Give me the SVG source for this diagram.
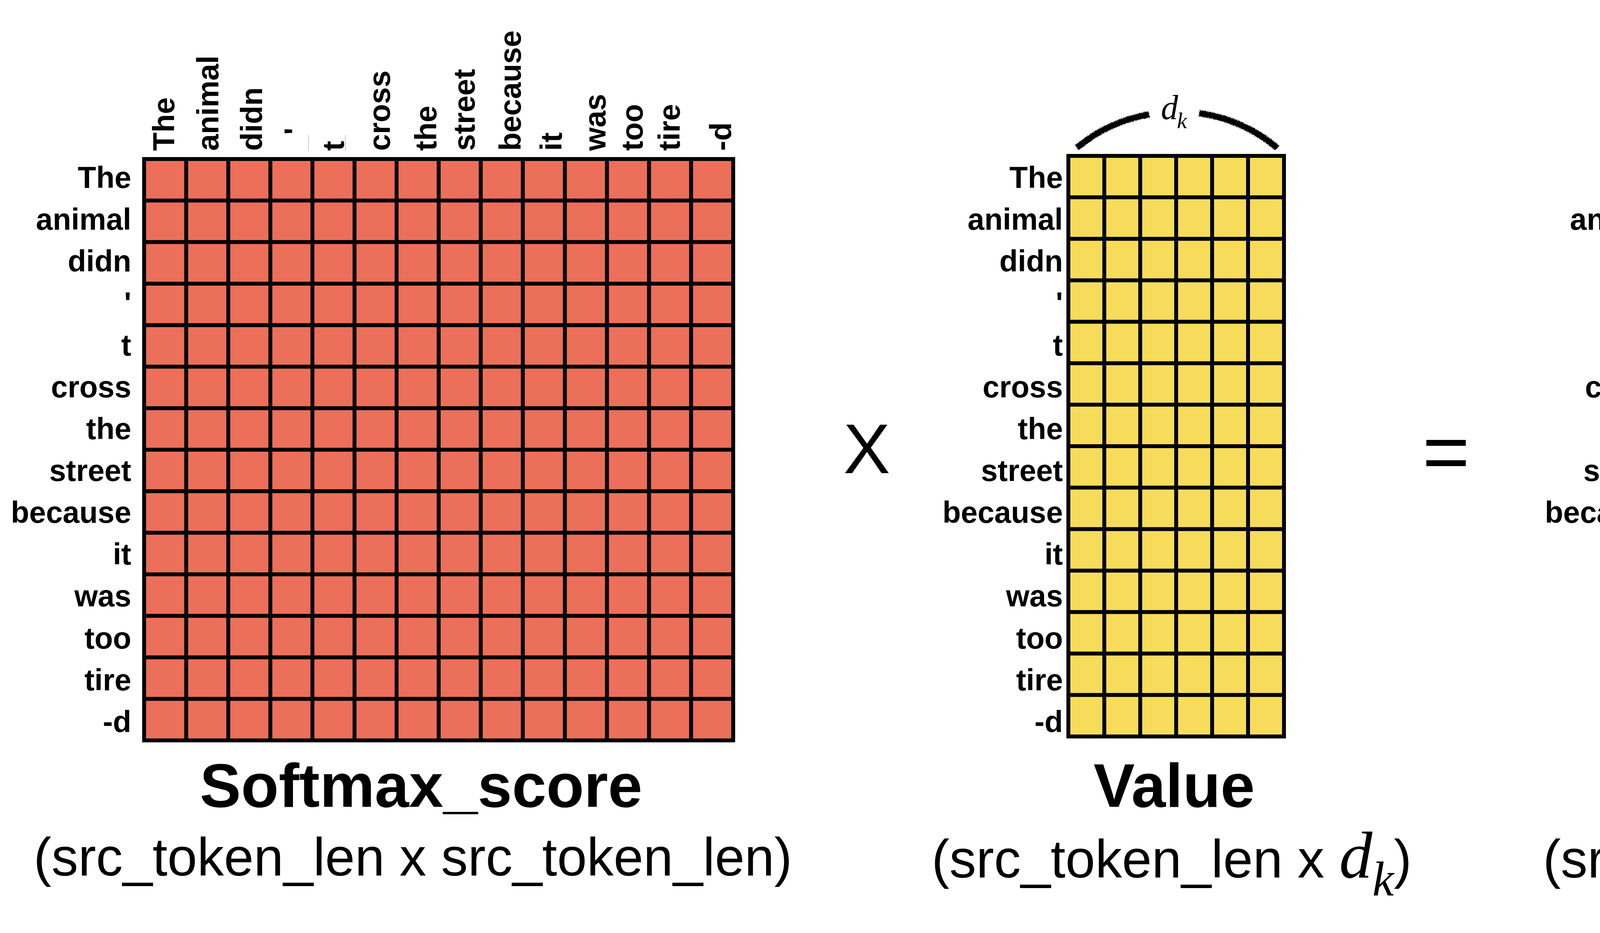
<svg xmlns="http://www.w3.org/2000/svg" width="5274" height="2388" viewBox="0 0 5274 2388">
<defs>
<style>
.bg{fill:#ffffff}
.grid{fill:none;stroke:#000;stroke-width:10;stroke-linecap:square}
.sm{fill:#EC6F5A}
.val{fill:#F7DC5B}
.att{fill:#2E6A63}
.lbl{font-family:"Liberation Sans",Arial,Helvetica,sans-serif;font-weight:bold;font-size:77px;fill:#000}
.row{text-anchor:end}
.title{font-family:"Liberation Sans",Arial,Helvetica,sans-serif;font-weight:bold;font-size:158px;fill:#000;text-anchor:middle}
.sub{font-family:"Liberation Sans",Arial,Helvetica,sans-serif;font-size:137px;fill:#000}
.mi{font-family:"Liberation Serif","Times New Roman",serif;font-style:italic;fill:#000}
.op{font-family:"Liberation Sans",Arial,Helvetica,sans-serif;fill:#000;text-anchor:middle}
.brace{fill:none;stroke:#000;stroke-width:16;stroke-linecap:butt;filter:url(#rough)}
.ghost{stroke:#b5b5b5;stroke-width:1.5}
</style>
<filter id="rough" x="-10%" y="-50%" width="120%" height="200%">
<feTurbulence type="fractalNoise" baseFrequency="0.6" numOctaves="2" seed="3" result="n"/>
<feDisplacementMap in="SourceGraphic" in2="n" scale="8" xChannelSelector="R" yChannelSelector="G"/>
</filter>
</defs>
<rect class="bg" x="0" y="0" width="5274" height="2388"/>

<g id="softmax">
<rect class="sm" x="369" y="407" width="1508" height="1488"/>
<path class="grid" d="M369,407V1895M476.7,407V1895M584.4,407V1895M692.1,407V1895M799.8,407V1895M907.6,407V1895M1015.3,407V1895M1123,407V1895M1230.7,407V1895M1338.4,407V1895M1446.1,407V1895M1553.8,407V1895M1661.5,407V1895M1769.2,407V1895M1877,407V1895
M369,407H1877M369,513.3H1877M369,619.6H1877M369,725.9H1877M369,832.2H1877M369,938.4H1877M369,1044.7H1877M369,1151H1877M369,1257.3H1877M369,1363.6H1877M369,1469.9H1877M369,1576.2H1877M369,1682.5H1877M369,1788.8H1877M369,1895H1877"/>
<g class="lbl row">
<text x="336" y="481">The</text>
<text x="336" y="588">animal</text>
<text x="336" y="695">didn</text>
<text x="336" y="802">'</text>
<text x="336" y="910">t</text>
<text x="336" y="1017">cross</text>
<text x="336" y="1124">the</text>
<text x="336" y="1231">street</text>
<text x="336" y="1338">because</text>
<text x="336" y="1445">it</text>
<text x="336" y="1552">was</text>
<text x="336" y="1660">too</text>
<text x="336" y="1767">tire</text>
<text x="336" y="1874">-d</text>
</g>
<g class="lbl">
<text transform="translate(446,386) rotate(-90)">The</text>
<text transform="translate(559,386) rotate(-90)">animal</text>
<text transform="translate(671,386) rotate(-90)">didn</text>
<text transform="translate(782,345) rotate(-90)">'</text>
<text transform="translate(880,386) rotate(-90)">t</text>
<text transform="translate(998,386) rotate(-90)">cross</text>
<text transform="translate(1117,386) rotate(-90)">the</text>
<text transform="translate(1215,386) rotate(-90)">street</text>
<text transform="translate(1333,386) rotate(-90)">because</text>
<text transform="translate(1438,386) rotate(-90)">it</text>
<text transform="translate(1550,386) rotate(-90)">was</text>
<text transform="translate(1645,386) rotate(-90)">too</text>
<text transform="translate(1740,386) rotate(-90)">tire</text>
<text transform="translate(1872,386) rotate(-90)">-d</text>
</g>
<path class="ghost" d="M790,346V386M884,346V386"/>
<text class="title" x="1078" y="2065">Softmax_score</text>
<text class="sub" x="1057" y="2241" text-anchor="middle">(src_token_len x src_token_len)</text>
</g>

<g id="times-op">
<text class="op" x="2219" y="1211" font-size="180">X</text>
</g>

<g id="value">
<rect class="val" x="2735" y="399" width="552" height="1486"/>
<path class="grid" d="M2735,399V1885M2827,399V1885M2919,399V1885M3011,399V1885M3103,399V1885M3195,399V1885M3287,399V1885
M2735,399H3287M2735,505.1H3287M2735,611.3H3287M2735,717.4H3287M2735,823.6H3287M2735,929.7H3287M2735,1035.8H3287M2735,1142H3287M2735,1248.1H3287M2735,1354.3H3287M2735,1460.4H3287M2735,1566.5H3287M2735,1672.7H3287M2735,1778.8H3287M2735,1885H3287"/>
<g class="lbl row">
<text x="2721" y="481">The</text>
<text x="2721" y="588">animal</text>
<text x="2721" y="695">didn</text>
<text x="2721" y="802">'</text>
<text x="2721" y="910">t</text>
<text x="2721" y="1017">cross</text>
<text x="2721" y="1124">the</text>
<text x="2721" y="1231">street</text>
<text x="2721" y="1338">because</text>
<text x="2721" y="1445">it</text>
<text x="2721" y="1552">was</text>
<text x="2721" y="1660">too</text>
<text x="2721" y="1767">tire</text>
<text x="2721" y="1874">-d</text>
</g>
<path class="brace" d="M2757,378A388,388 0 0 1 2942,293M3070,290A388,388 0 0 1 3270,379"/>
<text class="mi" x="2972" y="305" font-size="88">d</text>
<text class="mi" x="3013" y="328" font-size="58">k</text>
<text class="title" x="3006" y="2065">Value</text>
<text class="sub" x="2385" y="2246">(src_token_len x <tspan class="mi" font-size="170">d</tspan><tspan class="mi" font-size="124" dy="46">k</tspan><tspan dy="-46">)</tspan></text>
</g>

<g id="equals-op">
<text class="op" x="3702" y="1228" font-size="208">=</text>
</g>

<g id="attention">
<rect class="att" x="4287" y="399" width="554" height="1486"/>
<path class="grid" d="M4287,399V1885M4379.3,399V1885M4471.7,399V1885M4564,399V1885M4656.3,399V1885M4748.7,399V1885M4841,399V1885
M4287,399H4841M4287,505.1H4841M4287,611.3H4841M4287,717.4H4841M4287,823.6H4841M4287,929.7H4841M4287,1035.8H4841M4287,1142H4841M4287,1248.1H4841M4287,1354.3H4841M4287,1460.4H4841M4287,1566.5H4841M4287,1672.7H4841M4287,1778.8H4841M4287,1885H4841"/>
<g class="lbl row">
<text x="4263" y="481">The</text>
<text x="4263" y="588">animal</text>
<text x="4263" y="695">didn</text>
<text x="4263" y="802">'</text>
<text x="4263" y="910">t</text>
<text x="4263" y="1017">cross</text>
<text x="4263" y="1124">the</text>
<text x="4263" y="1231">street</text>
<text x="4263" y="1338">because</text>
<text x="4263" y="1445">it</text>
<text x="4263" y="1552">was</text>
<text x="4263" y="1660">too</text>
<text x="4263" y="1767">tire</text>
<text x="4263" y="1874">-d</text>
</g>
<path class="brace" d="M4301,380A388,388 0 0 1 4489,293M4615,290A388,388 0 0 1 4819,380"/>
<text class="mi" x="4519" y="306" font-size="88">d</text>
<text class="mi" x="4561" y="329" font-size="58">k</text>
<text class="title" x="4562" y="2065">Attention</text>
<text class="sub" x="3950" y="2246">(src_token_len x <tspan class="mi" font-size="170">d</tspan><tspan class="mi" font-size="124" dy="46">k</tspan><tspan dy="-46">)</tspan></text>
</g>
</svg>
